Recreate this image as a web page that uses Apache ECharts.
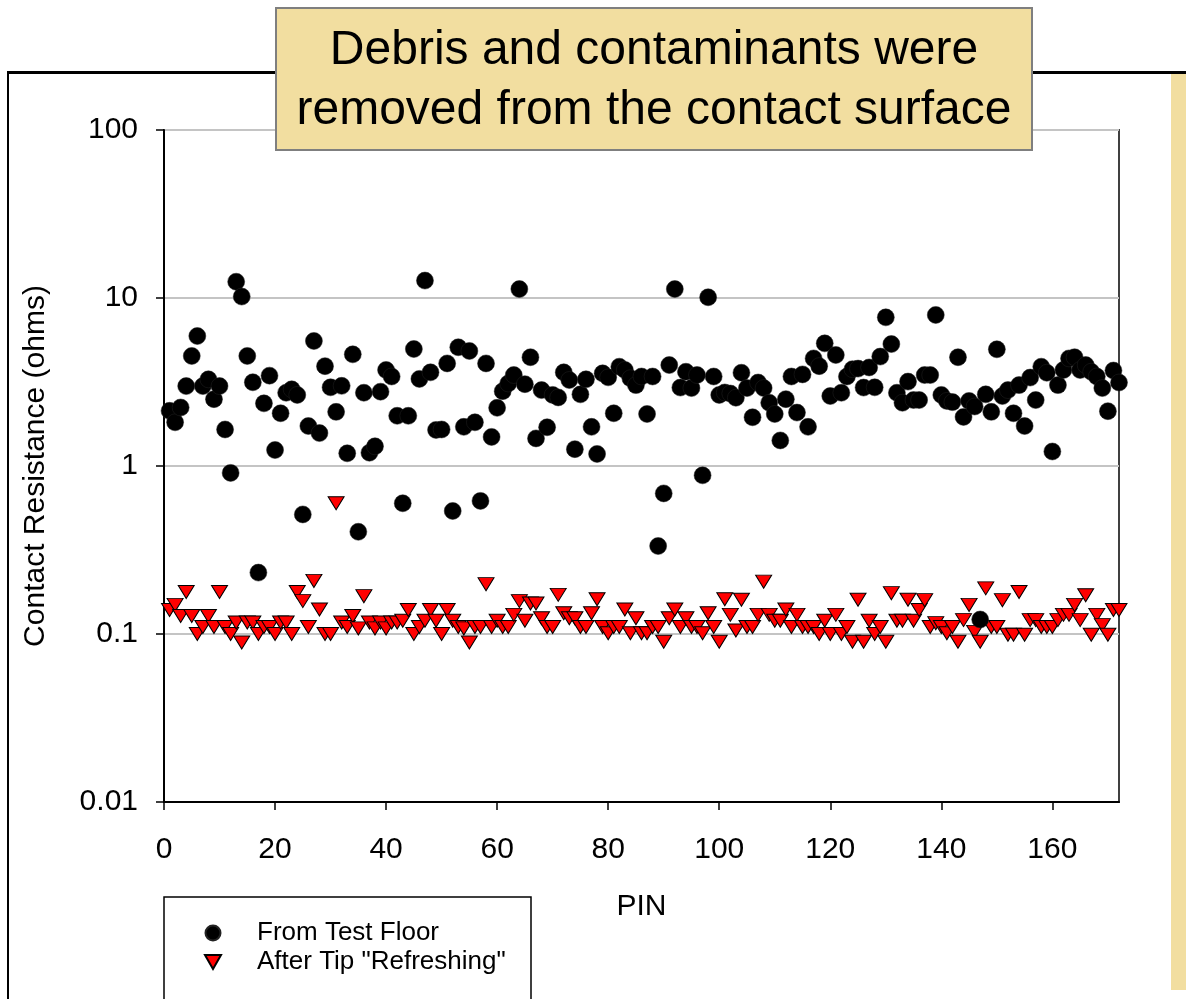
<!DOCTYPE html>
<html>
<head>
<meta charset="utf-8">
<script src="https://cdn.jsdelivr.net/npm/echarts@6/dist/echarts.min.js"></script>
<style>
	html, body { margin: 0; padding: 0; background: #fff; }
	#chartContainer { width: 1186px; height: 999px; }
</style>
</head>
<body>
<div id="chartContainer"></div>
<script>
// 数据 (PIN 1..172)
var pinArray = [1,2,3,4,5,6,7,8,9,10,11,12,13,14,15,16,17,18,19,20,21,22,23,24,25,26,27,28,29,30,
	31,32,33,34,35,36,37,38,39,40,41,42,43,44,45,46,47,48,49,50,51,52,53,54,55,56,57,58,59,60,
	61,62,63,64,65,66,67,68,69,70,71,72,73,74,75,76,77,78,79,80,81,82,83,84,85,86,87,88,89,90,
	91,92,93,94,95,96,97,98,99,100,101,102,103,104,105,106,107,108,109,110,111,112,113,114,115,116,117,118,119,120,
	121,122,123,124,125,126,127,128,129,130,131,132,133,134,135,136,137,138,139,140,141,142,143,144,145,146,147,148,149,150,
	151,152,153,154,155,156,157,158,159,160,161,162,163,164,165,166,167,168,169,170,171,172];

// From Test Floor
var testFloorArray = [2.13,1.82,2.23,2.99,4.52,5.94,2.99,3.28,2.50,2.99,1.65,0.91,12.5,10.2,4.52,3.15,0.232,2.36,3.45,1.245,
	2.06,2.73,2.86,2.65,0.515,1.73,5.55,1.57,3.93,2.94,2.10,3.0,1.19,4.62,0.406,2.73,1.20,1.31,2.77,3.73,
	3.41,1.99,0.60,1.99,4.97,3.30,12.7,3.61,1.64,1.65,4.08,0.54,5.09,1.71,4.84,1.82,0.62,4.08,1.49,2.22,
	2.79,3.10,3.48,11.3,3.07,4.44,1.46,2.83,1.70,2.65,2.56,3.61,3.25,1.26,2.67,3.28,1.71,1.18,3.56,3.37,
	2.06,3.90,3.73,3.33,3.03,3.41,2.04,3.41,0.334,0.687,3.99,11.3,2.93,3.64,2.91,3.48,0.88,10.1,3.41,2.65,
	2.74,2.7,2.55,3.59,2.91,1.95,3.14,2.91,2.38,2.04,1.42,2.50,3.41,2.08,3.51,1.71,4.37,3.93,5.37,2.61,
	4.58,2.73,3.41,3.77,3.8,2.93,3.86,2.94,4.48,7.67,5.32,2.73,2.38,3.18,2.47,2.47,3.48,3.48,7.93,2.65,
	2.44,2.4,4.44,1.96,2.44,2.26,0.122,2.67,2.10,4.95,2.61,2.83,2.06,3.03,1.73,3.36,2.47,3.90,3.59,1.22,
	3.03,3.73,4.37,4.44,3.73,3.99,3.64,3.41,2.91,2.12,3.7,3.14];

// After Tip "Refreshing"
var refreshArray = [0.139,0.149,0.128,0.178,0.128,0.10,0.11,0.128,0.11,0.178,0.11,0.10,0.117,0.089,0.117,0.117,0.10,0.11,0.11,0.10,
	0.117,0.117,0.10,0.178,0.157,0.11,0.207,0.14,0.10,0.10,0.6,0.117,0.11,0.128,0.108,0.168,0.117,0.108,0.117,0.108,
	0.117,0.117,0.12,0.139,0.10,0.11,0.12,0.139,0.12,0.10,0.139,0.12,0.11,0.108,0.089,0.11,0.11,0.198,0.11,0.12,
	0.11,0.11,0.13,0.157,0.12,0.152,0.152,0.124,0.11,0.11,0.171,0.133,0.124,0.124,0.11,0.11,0.133,0.161,0.11,0.101,
	0.11,0.11,0.14,0.101,0.124,0.101,0.101,0.11,0.11,0.09,0.124,0.14,0.11,0.124,0.11,0.11,0.101,0.133,0.11,0.09,
	0.161,0.13,0.105,0.16,0.11,0.11,0.13,0.205,0.13,0.12,0.12,0.14,0.11,0.13,0.11,0.11,0.11,0.10,0.12,0.10,
	0.13,0.10,0.11,0.09,0.16,0.09,0.12,0.10,0.11,0.09,0.175,0.12,0.12,0.16,0.12,0.139,0.159,0.11,0.116,0.11,
	0.101,0.11,0.09,0.121,0.149,0.103,0.09,0.187,0.11,0.11,0.159,0.099,0.099,0.178,0.099,0.121,0.121,0.11,0.11,0.11,
	0.121,0.13,0.13,0.149,0.121,0.17,0.099,0.13,0.113,0.099,0.139,0.139];

var xTickArray = [0, 20, 40, 60, 80, 100, 120, 140, 160];
var yTickArray = [0.01, 0.1, 1, 10, 100];
var seriesNameArray = ['From Test Floor', 'After Tip "Refreshing"'];
var titleLineArray = ['Debris and contaminants were', 'removed from the contact surface'];

var contactChart = {
	fontName : '"Liberation Sans", Arial, sans-serif',
	downTriangle : 'path://M0,0L10,0L5,8.66Z',
	/**
	 * 组合成散点数据
	 */
	buildData : function(valueArray) {
		var list = [];
		for (var i = 0; i < pinArray.length; i++) {
			list.push([pinArray[i], valueArray[i]]);
		}
		return list;
	},
	/**
	 * 显示图表
	 */
	showChart : function() {
		var myChart = echarts.init(document.getElementById('chartContainer'), null, {renderer: 'canvas'});
		var font = contactChart.fontName;
		var option = {
			backgroundColor: '#fff',
			animation: false,
			grid: {
				left: 164, right: 67, top: 130, bottom: 197,
				show: true, borderColor: '#404040', borderWidth: 2
			},
			legend: {
				orient: 'vertical',
				left: 199, top: 915,
				z: 100,
				itemWidth: 16, itemHeight: 15, itemGap: 3,
				textStyle: {fontSize: 26, fontFamily: font, color: '#000', lineHeight: 26, padding: [0, 0, 0, 31]},
				data: [
					{name: seriesNameArray[0], icon: 'circle'},
					{name: seriesNameArray[1], icon: contactChart.downTriangle}
				]
			},
			xAxis: {
				type: 'value',
				min: 0, max: 172, interval: 20,
				name: 'PIN',
				nameLocation: 'middle',
				nameGap: 90,
				nameTextStyle: {fontSize: 30, fontFamily: font, color: '#000'},
				axisLine: {show: true, lineStyle: {color: '#000', width: 2}},
				axisTick: {show: true, length: 8, lineStyle: {color: '#000', width: 1.5}},
				axisLabel: {
					fontSize: 30, fontFamily: font, color: '#000', margin: 33,
					showMaxLabel: false,
					formatter: function(v) { return xTickArray.indexOf(v) >= 0 ? String(v) : ''; }
				},
				splitLine: {show: false}
			},
			yAxis: {
				type: 'log',
				logBase: 10,
				min: yTickArray[0], max: yTickArray[yTickArray.length - 1],
				name: 'Contact Resistance (ohms)',
				nameLocation: 'middle',
				nameGap: 113,
				nameTextStyle: {fontSize: 30, fontFamily: font, color: '#000'},
				axisLine: {show: true, lineStyle: {color: '#000', width: 2}},
				axisTick: {show: true, length: 8, lineStyle: {color: '#000', width: 1.5}},
				axisLabel: {
					fontSize: 30, fontFamily: font, color: '#000', margin: 26,
					formatter: function(v) {
						var r = +(+v).toPrecision(3);
						return yTickArray.indexOf(r) >= 0 ? String(r) : '';
					}
				},
				splitLine: {show: true, lineStyle: {color: '#c4c4c4', width: 2}}
			},
			series: [
				{
					name: seriesNameArray[0],
					type: 'scatter',
					z: 3,
					symbol: 'circle',
					symbolSize: 17,
					itemStyle: {color: '#000', borderColor: '#222', borderWidth: 0.5, opacity: 1},
					data: contactChart.buildData(testFloorArray)
				},
				{
					name: seriesNameArray[1],
					type: 'scatter',
					z: 2,
					symbol: contactChart.downTriangle,
					symbolSize: [16, 13],
					itemStyle: {color: '#ff0000', borderColor: '#000', borderWidth: 1, opacity: 1},
					data: contactChart.buildData(refreshArray)
				}
			],
			graphic: [
				// 外框
				{type: 'rect', z: 80, shape: {x: 7, y: 71, width: 1179, height: 3}, style: {fill: '#000'}},
				{type: 'rect', z: 80, shape: {x: 7, y: 71, width: 2, height: 928}, style: {fill: '#000'}},
				{type: 'rect', z: 80, shape: {x: 1171, y: 74, width: 15, height: 916}, style: {fill: '#f2dea0'}},
				// 图例框
				{type: 'rect', z: 50, shape: {x: 164, y: 897, width: 367, height: 120}, style: {fill: '#fff', stroke: '#000', lineWidth: 1.5}},
				// 标题框
				{type: 'rect', z: 90, shape: {x: 276, y: 8, width: 756, height: 142}, style: {fill: '#f2dea0', stroke: '#7f7f7f', lineWidth: 2}},
				{type: 'text', z: 91, x: 654, y: 51, style: {text: titleLineArray[0], fill: '#000', font: '48px ' + font, textAlign: 'center', textVerticalAlign: 'middle'}},
				{type: 'text', z: 91, x: 654, y: 111, style: {text: titleLineArray[1], fill: '#000', font: '48px ' + font, textAlign: 'center', textVerticalAlign: 'middle'}}
			]
		};
		// 显示图表。
		myChart.setOption(option);
	}
};

contactChart.showChart();
</script>
</body>
</html>
